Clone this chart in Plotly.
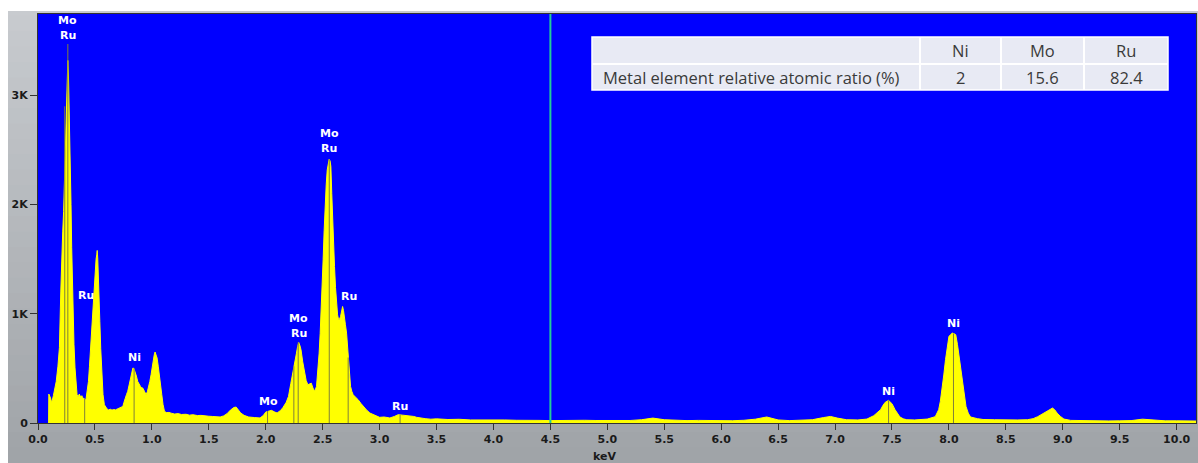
import plotly.graph_objects as go

# ---------------- data ----------------
kev = [0.093, 0.095, 0.11, 0.12, 0.135, 0.15, 0.16, 0.175, 0.188, 0.2, 0.208, 0.217, 0.225, 0.237, 0.245,
       0.25, 0.256, 0.262, 0.268, 0.276, 0.285, 0.29, 0.296, 0.302, 0.308, 0.316, 0.325, 0.334, 0.343, 0.352,
       0.363, 0.375, 0.385, 0.393, 0.405, 0.415, 0.422, 0.432, 0.443, 0.452, 0.461, 0.471, 0.481, 0.491, 0.501,
       0.51, 0.516, 0.52, 0.525, 0.531, 0.537, 0.543, 0.551, 0.56, 0.571, 0.583, 0.595, 0.607, 0.62, 0.635,
       0.65, 0.665, 0.68, 0.695, 0.715, 0.73, 0.745, 0.755, 0.765, 0.777, 0.788, 0.8, 0.812, 0.822, 0.833,
       0.842, 0.852, 0.864, 0.876, 0.888, 0.9, 0.91, 0.92, 0.935, 0.949, 0.96, 0.97, 0.982, 0.993, 1.002,
       1.01, 1.02, 1.028, 1.037, 1.046, 1.056, 1.067, 1.077, 1.087, 1.098, 1.111, 1.13, 1.15, 1.17, 1.2,
       1.23, 1.26, 1.3, 1.33, 1.36, 1.4, 1.43, 1.46, 1.5, 1.53, 1.56, 1.6, 1.63, 1.66, 1.69,
       1.72, 1.74, 1.76, 1.78, 1.81, 1.85, 1.9, 1.95, 1.98, 2.0, 2.03, 2.05, 2.08, 2.1, 2.13,
       2.15, 2.18, 2.2, 2.22, 2.24, 2.255, 2.27, 2.28, 2.29, 2.3, 2.31, 2.325, 2.34, 2.355, 2.37,
       2.385, 2.4, 2.415, 2.43, 2.446, 2.46, 2.469, 2.478, 2.487, 2.495, 2.504, 2.513, 2.522, 2.531, 2.54,
       2.548, 2.557, 2.565, 2.572, 2.58, 2.587, 2.595, 2.604, 2.613, 2.622, 2.631, 2.64, 2.648, 2.657, 2.666,
       2.675, 2.683, 2.692, 2.7, 2.71, 2.718, 2.727, 2.736, 2.745, 2.756, 2.768, 2.79, 2.812, 2.835, 2.855,
       2.885, 2.915, 2.95, 3.0, 3.04, 3.09, 3.13, 3.163, 3.2, 3.237, 3.27, 3.3, 3.325, 3.36, 3.4,
       3.45, 3.5, 3.6, 3.7, 3.8, 3.9, 4.0, 4.1, 4.2, 4.3, 4.4, 4.5, 4.6, 4.7, 4.8,
       4.9, 5.0, 5.1, 5.2, 5.3, 5.4, 5.5, 5.6, 5.7, 5.8, 5.9, 6.0, 6.1, 6.2, 6.3,
       6.4, 6.45, 6.5, 6.6, 6.7, 6.8, 6.9, 6.96, 7.02, 7.1, 7.2, 7.28, 7.34, 7.37, 7.4,
       7.42, 7.44, 7.47, 7.5, 7.527, 7.55, 7.57, 7.6, 7.63, 7.7, 7.81, 7.88, 7.91, 7.925, 7.94,
       7.955, 7.97, 7.985, 8.0, 8.015, 8.03, 8.045, 8.06, 8.075, 8.09, 8.105, 8.12, 8.135, 8.15, 8.17,
       8.19, 8.25, 8.3, 8.4, 8.5, 8.6, 8.69, 8.74, 8.78, 8.82, 8.85, 8.88, 8.91, 8.93, 8.95,
       8.98, 9.01, 9.07, 9.2, 9.3, 9.4, 9.5, 9.6, 9.7, 9.8, 9.9, 10.0, 10.1, 10.17]
counts = [0, 265, 230, 185, 250, 330, 380, 520, 690, 1200, 1570, 1750, 1936, 2393, 2800,
          3065, 3250, 3320, 3150, 2820, 2427, 2000, 1604, 1250, 990, 720, 505, 350, 260, 240,
          265, 235, 250, 230, 225, 215, 220, 290, 380, 520, 690, 870, 1055, 1250, 1420,
          1500, 1540, 1580, 1500, 1357, 1150, 930, 680, 442, 260, 167, 140, 128, 120, 126,
          118, 124, 120, 128, 136, 145, 152, 190, 230, 260, 290, 350, 410, 460, 503,
          500, 473, 430, 380, 350, 335, 325, 320, 290, 260, 285, 320, 380, 442, 510,
          564, 620, 650, 630, 595, 520, 442, 350, 260, 170, 106, 95, 97, 90, 82,
          86, 78, 80, 72, 76, 68, 70, 64, 62, 60, 58, 55, 65, 85, 118,
          142, 146, 120, 92, 70, 55, 50, 46, 70, 100, 110, 116, 100, 92, 115,
          140, 190, 244, 360, 488, 570, 640, 700, 737, 710, 670, 560, 457, 390, 350,
          355, 365, 320, 290, 335, 480, 640, 820, 1006, 1250, 1494, 1760, 2013, 2180, 2317,
          2390, 2415, 2400, 2350, 2100, 1836, 1620, 1433, 1240, 1067, 990, 945, 950, 975, 1030,
          1067, 1030, 975, 900, 823, 700, 580, 450, 335, 290, 259, 235, 213, 180, 152,
          120, 91, 72, 52, 55, 46, 60, 76, 72, 70, 67, 60, 52, 45, 40,
          35, 38, 32, 34, 28, 30, 26, 28, 25, 27, 24, 22, 24, 22, 25,
          23, 22, 24, 23, 30, 45, 30, 24, 22, 24, 22, 23, 21, 25, 35,
          55, 45, 28, 22, 24, 30, 50, 60, 45, 30, 28, 36, 67, 95, 122,
          160, 189, 207, 177, 122, 85, 55, 38, 30, 28, 36, 58, 122, 200, 305,
          440, 580, 700, 792, 810, 823, 818, 808, 720, 610, 490, 366, 250, 152, 90,
          55, 40, 32, 30, 26, 28, 30, 40, 58, 80, 104, 120, 137, 120, 91,
          60, 36, 24, 20, 22, 19, 20, 22, 35, 28, 20, 20, 18, 18]

# element marker lines (keV position, top in counts)
line_kev = [0.235, 0.262, 0.41, 0.844, 2.016, 2.247, 2.285, 2.558, 2.724, 3.18, 7.47, 8.04]
line_top = [2900, 3470, 220, 500, 110, 520, 737, 2415, 600, 75, 207, 820]

# element labels
label_text = ["Mo", "Ru", "Ru", "Ni", "Mo", "Mo", "Ru", "Mo", "Ru", "Ru", "Ru", "Ni", "Ni"]
label_kev = [0.26, 0.26, 0.42, 0.85, 2.02, 2.29, 2.29, 2.56, 2.56, 2.73, 3.18, 7.47, 8.04]
label_cnt = [3681, 3544, 1165, 597, 195, 954, 817, 2647, 2510, 1156, 149, 287, 908]

cursor_kev = 4.5

y_tickvals = [0, 1000, 2000, 3000]
y_ticktext = ["0", "1K", "2K", "3K"]

table_header = ["", "Ni", "Mo", "Ru"]
table_row = ["Metal element relative atomic ratio (%)", "2", "15.6", "82.4"]

# ---------------- layout geometry ----------------
W, H = 1198, 463
L, R, T, B = 38, 2, 14, 40
PW, PH = W - L - R, H - T - B


def px(x):
    return (x - L) / PW


def py(y):
    return (H - B - y) / PH


fig = go.Figure()

fig.add_trace(go.Scatter(x=kev, y=counts, mode="lines", line=dict(color="#ffff00", width=1),
                         fill="tozeroy", fillcolor="#ffff00", hoverinfo="skip", showlegend=False))

lx, ly = [], []
for k, t in zip(line_kev, line_top):
    lx += [k, k, None]
    ly += [0, t, None]
fig.add_trace(go.Scatter(x=lx, y=ly, mode="lines", line=dict(color="#80803a", width=1),
                         hoverinfo="skip", showlegend=False))

shapes = []
# gradient gray frame
N = 30
c0, c1 = (200, 203, 207), (160, 164, 168)
for i in range(N):
    f = i / (N - 1)
    col = "rgb(%d,%d,%d)" % tuple(round(a + (b - a) * f) for a, b in zip(c0, c1))
    y0 = i * H / N
    y1 = (i + 1) * H / N + 1
    shapes.append(dict(type="rect", xref="paper", yref="paper", x0=px(0), x1=px(W),
                       y0=py(y1), y1=py(y0), fillcolor=col, line=dict(width=0), layer="below"))
# white margin strips
shapes.append(dict(type="rect", xref="paper", yref="paper", x0=px(0), x1=px(8), y0=py(H), y1=py(0),
                   fillcolor="white", line=dict(width=0), layer="below"))
shapes.append(dict(type="rect", xref="paper", yref="paper", x0=px(0), x1=px(W), y0=py(11), y1=py(0),
                   fillcolor="white", line=dict(width=0), layer="below"))
# blue plot area
shapes.append(dict(type="rect", xref="paper", yref="paper", x0=0, x1=1, y0=0, y1=1,
                   fillcolor="#0000ff", line=dict(width=0), layer="below"))
# cursor line
shapes.append(dict(type="line", xref="x", yref="paper", x0=cursor_kev, x1=cursor_kev, y0=0, y1=1,
                   line=dict(color="#22cc99", width=2), layer="above"))

# table
tx = [592, 920, 1001, 1084, 1168]
ty = [37, 64, 90]
shapes.append(dict(type="rect", xref="paper", yref="paper", x0=px(tx[0]), x1=px(tx[-1]),
                   y0=py(ty[-1]), y1=py(ty[0]), fillcolor="#e8eaf4", line=dict(color="#ffffff", width=1.5),
                   layer="above"))
for xv in tx[1:-1]:
    shapes.append(dict(type="line", xref="paper", yref="paper", x0=px(xv), x1=px(xv),
                       y0=py(ty[-1]), y1=py(ty[0]), line=dict(color="#ffffff", width=2), layer="above"))
shapes.append(dict(type="line", xref="paper", yref="paper", x0=px(tx[0]), x1=px(tx[-1]),
                   y0=py(ty[1]), y1=py(ty[1]), line=dict(color="#ffffff", width=2), layer="above"))

annotations = []
for txt, k, c in zip(label_text, label_kev, label_cnt):
    annotations.append(dict(x=k, y=c, xref="x", yref="y", text="<b>%s</b>" % txt, showarrow=False,
                            yanchor="middle", font=dict(family="DejaVu Sans", size=11, color="white")))

tfont = dict(family="Open Sans", size=16.5, color="#3a3a3a")
for r, row in enumerate([table_header, table_row]):
    yc = (ty[r] + ty[r + 1]) / 2
    for c, val in enumerate(row):
        if c == 0:
            annotations.append(dict(x=px(tx[0] + 9), y=py(yc), xref="paper", yref="paper", text=val,
                                    showarrow=False, xanchor="left", yanchor="middle", font=tfont))
        else:
            annotations.append(dict(x=px((tx[c] + tx[c + 1]) / 2), y=py(yc), xref="paper", yref="paper",
                                    text=val, showarrow=False, xanchor="center", yanchor="middle", font=tfont))

annotations.append(dict(x=px(604), y=py(456), xref="paper", yref="paper",
                        text="<b>keV</b>", showarrow=False, xanchor="center", yanchor="middle",
                        font=dict(family="DejaVu Sans", size=11, color="#1a1a1a")))

axfont = dict(family="DejaVu Sans", size=11, color="#1a1a1a")
fig.update_layout(
    width=W, height=H,
    margin=dict(l=L, r=R, t=T, b=B),
    paper_bgcolor="white", plot_bgcolor="rgba(0,0,0,0)",
    shapes=shapes, annotations=annotations,
    xaxis=dict(range=[0, 10.17], showgrid=False, zeroline=False, ticks="outside", ticklen=6,
               tickcolor="#333", tickwidth=1, dtick=0.5, tick0=0, tickformat=".1f",
               showline=True, linecolor="#333", linewidth=1, mirror=True,
               tickfont=axfont, tickprefix="<b>", ticksuffix="</b>"),
    yaxis=dict(range=[0, 3745], showgrid=False, zeroline=False, ticks="outside", ticklen=7,
               tickcolor="#333", tickwidth=1, tickvals=y_tickvals,
               ticktext=["<b>%s</b>" % t for t in y_ticktext],
               showline=True, linecolor="#333", linewidth=1, mirror=True, tickfont=axfont),
)

fig.write_html("out.html")
